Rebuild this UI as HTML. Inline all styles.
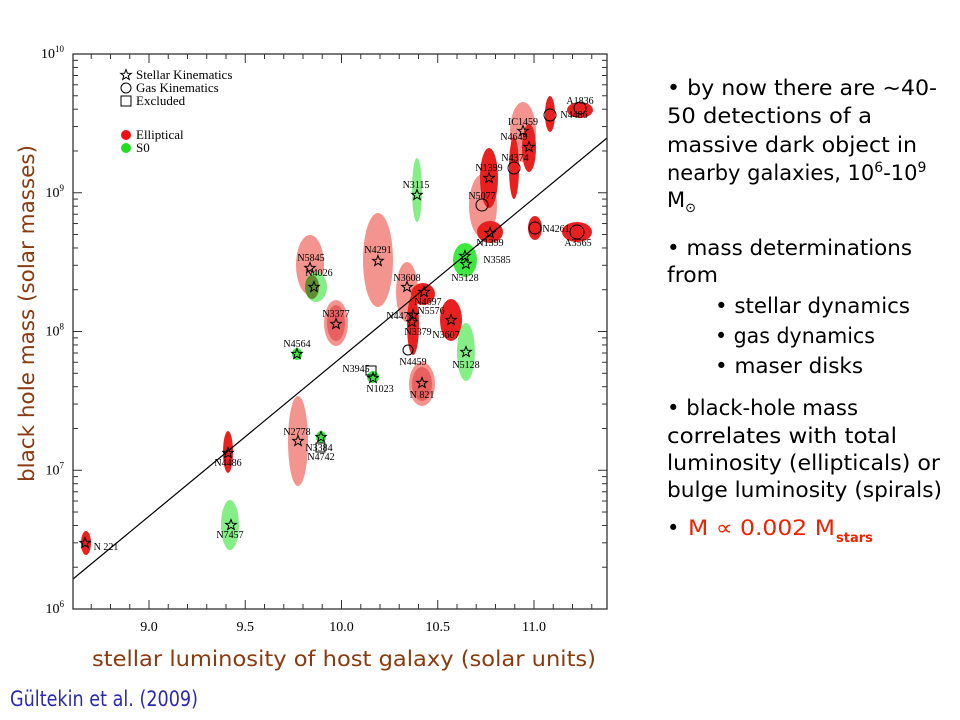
<!DOCTYPE html>
<html><head><meta charset="utf-8"><style>
html,body{margin:0;padding:0;background:#fff;}
svg{display:block;}
.t{font-family:"DejaVu Sans","Liberation Sans",sans-serif;font-size:21px;fill:#000;}
.s{font-family:"Liberation Serif",serif;fill:#000;}
</style></head><body>
<svg id="c" width="960" height="720" viewBox="0 0 960 720" xmlns="http://www.w3.org/2000/svg">
<rect width="960" height="720" fill="#fff"/>
<defs>
<symbol id="st" viewBox="-6 -6 12 12" overflow="visible">
<polygon points="0,-5.5 1.4,-1.8 5.3,-1.7 2.2,0.8 3.3,4.5 0,2.3 -3.3,4.5 -2.2,0.8 -5.3,-1.7 -1.4,-1.8" fill="none" stroke="#000" stroke-width="1"/>
</symbol>
</defs>
<g id="blobs">
<g fill="#f4948e">
<ellipse cx="310" cy="265" rx="14" ry="30"/>
<ellipse cx="378" cy="260" rx="15" ry="47"/>
<ellipse cx="407" cy="292" rx="11" ry="30"/>
<ellipse cx="523" cy="132" rx="13" ry="30"/>
<ellipse cx="483" cy="206" rx="14" ry="32"/>
<ellipse cx="298" cy="441" rx="10" ry="45"/>
<ellipse cx="336" cy="323" rx="12" ry="23"/>
<ellipse cx="422" cy="384" rx="13" ry="22"/>
</g>
<g fill="#e82020">
<ellipse cx="580" cy="110" rx="13" ry="8"/>
<ellipse cx="550" cy="114" rx="5" ry="18"/>
<ellipse cx="529" cy="148" rx="7" ry="24"/>
<ellipse cx="514" cy="168" rx="5" ry="31"/>
<ellipse cx="489" cy="178" rx="9" ry="30"/>
<ellipse cx="490" cy="232" rx="13" ry="11"/>
<ellipse cx="535" cy="228" rx="7" ry="12"/>
<ellipse cx="577" cy="232" rx="15" ry="10"/>
<ellipse cx="423" cy="294" rx="12" ry="11"/>
<ellipse cx="413" cy="325" rx="6" ry="30"/>
<ellipse cx="451" cy="320" rx="11" ry="21"/>
<ellipse cx="228" cy="452" rx="5" ry="21"/>
<ellipse cx="86" cy="543" rx="5" ry="12"/>
</g>
<g fill="#e86060">
<ellipse cx="336" cy="323" rx="9" ry="18"/>
<ellipse cx="422" cy="384" rx="10" ry="17"/>
</g>
<g fill="#3ee83e">
<ellipse cx="465" cy="260" rx="12" ry="17"/>
<ellipse cx="297" cy="354" rx="5" ry="6"/>
<ellipse cx="373" cy="377" rx="6" ry="6"/>
<ellipse cx="321" cy="437" rx="5" ry="6"/>
</g>
<g fill="#86ee86">
<ellipse cx="417" cy="190" rx="5" ry="32"/>
<ellipse cx="316" cy="287" rx="11" ry="15"/>
<ellipse cx="466" cy="352" rx="9" ry="29"/>
<ellipse cx="230" cy="525" rx="9" ry="25"/>
</g>
<ellipse cx="312" cy="287" rx="7" ry="12" fill="#5e8c2e"/>
</g>
<line x1="73" y1="579" x2="607" y2="138" stroke="#000" stroke-width="1.2"/>
<rect x="73" y="54" width="534" height="555" fill="none" stroke="#333" stroke-width="1.3"/>
<g id="ticks" stroke="#333" stroke-width="1"></g>
<g id="labs" class="s" font-size="14"></g>
<g>
<use href="#st" x="417" y="195" width="12" height="12" transform="translate(-6,-6)"/>
<use href="#st" x="310" y="268" width="12" height="12" transform="translate(-6,-6)"/>
<use href="#st" x="314" y="287" width="12" height="12" transform="translate(-6,-6)"/>
<use href="#st" x="378" y="261" width="12" height="12" transform="translate(-6,-6)"/>
<use href="#st" x="407" y="287" width="12" height="12" transform="translate(-6,-6)"/>
<use href="#st" x="424" y="292" width="12" height="12" transform="translate(-6,-6)"/>
<use href="#st" x="413" y="315" width="12" height="12" transform="translate(-6,-6)"/>
<use href="#st" x="412" y="322" width="12" height="12" transform="translate(-6,-6)"/>
<use href="#st" x="336" y="324" width="12" height="12" transform="translate(-6,-6)"/>
<use href="#st" x="297" y="354" width="12" height="12" transform="translate(-6,-6)"/>
<use href="#st" x="373" y="378" width="12" height="12" transform="translate(-6,-6)"/>
<use href="#st" x="422" y="383" width="12" height="12" transform="translate(-6,-6)"/>
<use href="#st" x="451" y="320" width="12" height="12" transform="translate(-6,-6)"/>
<use href="#st" x="466" y="352" width="12" height="12" transform="translate(-6,-6)"/>
<use href="#st" x="465" y="256" width="12" height="12" transform="translate(-6,-6)"/>
<use href="#st" x="466" y="264" width="12" height="12" transform="translate(-6,-6)"/>
<use href="#st" x="523" y="131" width="12" height="12" transform="translate(-6,-6)"/>
<use href="#st" x="529" y="147" width="12" height="12" transform="translate(-6,-6)"/>
<use href="#st" x="489" y="178" width="12" height="12" transform="translate(-6,-6)"/>
<use href="#st" x="490" y="233" width="12" height="12" transform="translate(-6,-6)"/>
<use href="#st" x="228" y="453" width="12" height="12" transform="translate(-6,-6)"/>
<use href="#st" x="298" y="441" width="12" height="12" transform="translate(-6,-6)"/>
<use href="#st" x="321" y="437" width="12" height="12" transform="translate(-6,-6)"/>
<use href="#st" x="231" y="525" width="12" height="12" transform="translate(-6,-6)"/>
<use href="#st" x="85" y="543" width="12" height="12" transform="translate(-6,-6)"/>
<use href="#st" x="126" y="75" width="12" height="12" transform="translate(-6,-6)"/>
</g>
<g fill="none" stroke="#000" stroke-width="1">
<circle cx="580" cy="108" r="6"/>
<circle cx="550" cy="115" r="6"/>
<circle cx="514" cy="168" r="6"/>
<circle cx="482" cy="205" r="6"/>
<circle cx="535" cy="228" r="6"/>
<circle cx="577" cy="232" r="7"/>
<circle cx="408" cy="350" r="5"/>
<rect x="366" y="366" width="10" height="9"/>
<rect x="316" y="443" width="9" height="9"/>
<circle cx="126" cy="88" r="5"/>
<rect x="121" y="96" width="10" height="10"/>
</g>
<g class="s" font-size="13">
<text x="136" y="79">Stellar Kinematics</text>
<text x="136" y="92">Gas Kinematics</text>
<text x="136" y="105">Excluded</text>
<text x="136" y="139">Elliptical</text>
<text x="136" y="152">S0</text>
</g>
<circle cx="126" cy="135" r="5" fill="#ee1111"/>
<circle cx="126" cy="148" r="5" fill="#22dd22"/>
<g class="s" font-size="10" text-anchor="middle">
<text x="416" y="188">N3115</text>
<text x="311" y="261">N5845</text>
<text x="319" y="276">N4026</text>
<text x="378" y="253">N4291</text>
<text x="407" y="281">N3608</text>
<text x="428" y="305">N4697</text>
<text x="431" y="314">N5576</text>
<text x="400" y="319">N4473</text>
<text x="418" y="335">N3379</text>
<text x="413" y="365">N4459</text>
<text x="336" y="317">N3377</text>
<text x="297" y="347">N4564</text>
<text x="356" y="372">N3945</text>
<text x="380" y="392">N1023</text>
<text x="422" y="398">N 821</text>
<text x="446" y="338">N3607</text>
<text x="466" y="368">N5128</text>
<text x="465" y="281">N5128</text>
<text x="497" y="263">N3585</text>
<text x="580" y="104">A1836</text>
<text x="574" y="118">N4486</text>
<text x="523" y="125">IC1459</text>
<text x="514" y="140">N4649</text>
<text x="515" y="161">N4374</text>
<text x="489" y="171">N1399</text>
<text x="482" y="199">N5077</text>
<text x="490" y="246">N1399</text>
<text x="556" y="232">N4261</text>
<text x="578" y="246">A3565</text>
<text x="228" y="466">N4486</text>
<text x="297" y="435">N2778</text>
<text x="319" y="451">N3384</text>
<text x="321" y="460">N4742</text>
<text x="230" y="538">N7457</text>
<text x="106" y="550">N 221</text>
</g>
<text class="t" x="92" y="666" style="fill:#8b3a0f" textLength="504" lengthAdjust="spacingAndGlyphs" font-size="21">stellar luminosity of host galaxy (solar units)</text>
<text class="t" transform="translate(34,482) rotate(-90)" style="fill:#8b3a0f" textLength="337" lengthAdjust="spacingAndGlyphs" font-size="21">black hole mass (solar masses)</text>
<text class="t" x="10" y="706" style="fill:#2a2ab0" font-size="15" textLength="188" lengthAdjust="spacingAndGlyphs">Gültekin et al. (2009)</text>
<g class="t">
<text x="667" y="95" textLength="270" lengthAdjust="spacingAndGlyphs">• by now there are ~40-</text>
<text x="667" y="123" textLength="205" lengthAdjust="spacingAndGlyphs">50 detections of a</text>
<text x="667" y="152" textLength="250" lengthAdjust="spacingAndGlyphs">massive dark object in</text>
<text x="667" y="180">nearby galaxies, 10<tspan font-size="14" dy="-8">6</tspan><tspan dy="8">-10</tspan><tspan font-size="14" dy="-8">9</tspan></text>
<text x="667" y="207">M<tspan font-size="13" dy="5">⊙</tspan></text>
<text x="667" y="255" textLength="245" lengthAdjust="spacingAndGlyphs">• mass determinations</text>
<text x="667" y="282" textLength="51" lengthAdjust="spacingAndGlyphs">from</text>
<text x="715" y="313" textLength="195" lengthAdjust="spacingAndGlyphs">• stellar dynamics</text>
<text x="715" y="343" textLength="160" lengthAdjust="spacingAndGlyphs">• gas dynamics</text>
<text x="715" y="373" textLength="148" lengthAdjust="spacingAndGlyphs">• maser disks</text>
<text x="667" y="415" textLength="191" lengthAdjust="spacingAndGlyphs">• black-hole mass</text>
<text x="667" y="443" textLength="230" lengthAdjust="spacingAndGlyphs">correlates with total</text>
<text x="667" y="470" textLength="273" lengthAdjust="spacingAndGlyphs">luminosity (ellipticals) or</text>
<text x="667" y="497" textLength="275" lengthAdjust="spacingAndGlyphs">bulge luminosity (spirals)</text>
<text x="667" y="535">•</text>
<text x="688" y="535" style="fill:#ee2200" textLength="147" lengthAdjust="spacingAndGlyphs">M ∝ 0.002 M</text>
<text x="836" y="542" style="fill:#ee2200" font-size="13" font-weight="bold">stars</text>
</g>
</svg>
<script>
(function(){
var ns="http://www.w3.org/2000/svg",T=document.getElementById('ticks'),L=document.getElementById('labs');
function ln(x1,y1,x2,y2){var e=document.createElementNS(ns,'line');e.setAttribute('x1',x1);e.setAttribute('y1',y1);e.setAttribute('x2',x2);e.setAttribute('y2',y2);T.appendChild(e);}
function tx(x,y,s,a){var e=document.createElementNS(ns,'text');e.setAttribute('x',x);e.setAttribute('y',y);if(a)e.setAttribute('text-anchor',a);e.textContent=s;L.appendChild(e);return e;}
function X(l){return 149+192.5*(l-9);}
for(var i=87;i<=113;i++){var l=i/10,x=X(l);if(x<74||x>606)continue;var maj=(i%5==0);var len=maj?9:5;ln(x,609,x,609-len);ln(x,54,x,54+len);if(maj)tx(x,631,l.toFixed(1),'middle');}
function Y(m){return 54+(10-m)*138.75;}
for(var d=6;d<10;d++){for(var k=1;k<10;k++){var y=Y(d+Math.log10(k));var len=k==1?9:5;ln(73,y,73+len,y);ln(607,y,607-len,y);}}
for(var d=6;d<=10;d++){var y=Y(d);var e=tx(64,y+4,'10','end');var s=document.createElementNS(ns,'tspan');s.setAttribute('font-size','9');s.setAttribute('dy','-6');s.textContent=d;e.appendChild(s);}
})();
</script>
</body></html>
